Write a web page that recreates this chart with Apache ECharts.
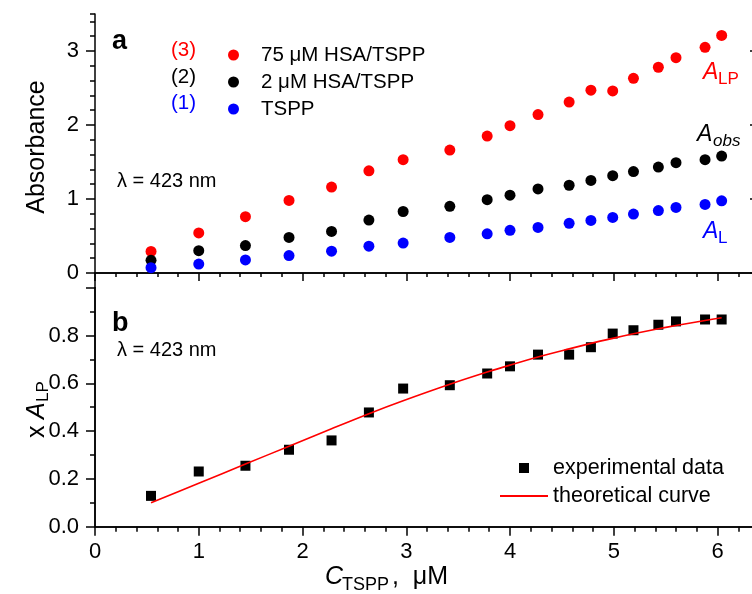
<!DOCTYPE html>
<html>
<head>
<meta charset="utf-8">
<script src="https://cdn.jsdelivr.net/npm/echarts@6/dist/echarts.min.js"></script>
<style>html,body{margin:0;padding:0;background:#fff}#c{width:752px;height:594px}</style>
</head>
<body>
<div id="c"></div>
<script>
// ---- data ----
const xVals   = [0.54,1.00,1.45,1.87,2.28,2.64,2.97,3.42,3.78,4.00,4.27,4.57,4.78,4.99,5.19,5.43,5.60,5.88,6.04];
const aLP     = [0.29,0.54,0.76,0.98,1.16,1.38,1.53,1.66,1.85,1.99,2.14,2.31,2.47,2.46,2.63,2.78,2.91,3.05,3.21];
const aObs    = [0.17,0.30,0.37,0.48,0.56,0.715,0.83,0.90,0.99,1.05,1.135,1.185,1.25,1.314,1.37,1.43,1.49,1.53,1.58];
const aL      = [0.07,0.12,0.176,0.235,0.294,0.362,0.403,0.48,0.529,0.575,0.615,0.67,0.71,0.75,0.795,0.842,0.885,0.925,0.975];
const xALPexp = [0.129,0.231,0.255,0.322,0.361,0.478,0.578,0.592,0.641,0.671,0.72,0.72,0.751,0.808,0.822,0.845,0.859,0.867,0.867];
const xALPthe = [0.100,0.182,0.262,0.337,0.410,0.473,0.527,0.596,0.647,0.676,0.710,0.744,0.767,0.788,0.807,0.828,0.842,0.863,0.874];
const xTicks  = [0,1,2,3,4,5,6];
const yTicksA = [0,1,2,3];
const yTicksB = [0.0,0.2,0.4,0.6,0.8];
const seriesNames = ['75 μM HSA/TSPP','2 μM HSA/TSPP','TSPP'];
const seriesTags  = ['(3)','(2)','(1)'];

const pair = (xs, ys) => xs.map((x, i) => [x, ys[i]]);
const FONT = '"Liberation Sans", Arial, sans-serif';
const RED = '#ff0000', BLUE = '#0000ff', BLACK = '#000000';

const chart = echarts.init(document.getElementById('c'), null, {renderer:'canvas'});
const lineStyle = {color:'#000', width:1.5};
const gridL = 95, gridR = -7;
const TICKFS = 22;

const option = {
  animation:false,
  backgroundColor:'#fff',
  grid:[
    {left:gridL, right:gridR, top:14, height:273.7, outerBoundsMode:'none', containLabel:false},
    {left:gridL, right:gridR, top:287.7, height:239, outerBoundsMode:'none', containLabel:false}
  ],
  xAxis:[
    {gridIndex:0, type:'value', min:0, max:6.4, position:'bottom',
     axisLine:{lineStyle}, axisTick:{show:false}, axisLabel:{show:false}, splitLine:{show:false}},
    {gridIndex:0, type:'value', min:0, max:6.4, interval:1, position:'top',
     axisLine:{lineStyle}, axisTick:{inside:true, length:8, lineStyle},
     minorTick:{show:true, splitNumber:5, length:4, lineStyle}, axisLabel:{show:false}, splitLine:{show:false}},
    {gridIndex:1, type:'value', min:0, max:6.4, interval:1, position:'bottom',
     axisLine:{lineStyle}, axisTick:{inside:false, length:9, lineStyle},
     minorTick:{show:true, splitNumber:5, length:5, lineStyle},
     axisLabel:{color:'#000', fontFamily:FONT, fontSize:TICKFS, margin:14, customValues:xTicks,
       formatter:v=>String(Math.round(v))},
     splitLine:{show:false}},
    {gridIndex:1, type:'value', min:0, max:6.4, interval:1, position:'top',
     axisLine:{lineStyle}, axisTick:{inside:true, length:8, lineStyle},
     minorTick:{show:true, splitNumber:5, length:4, lineStyle}, axisLabel:{show:false}, splitLine:{show:false}}
  ],
  yAxis:[
    {gridIndex:0, type:'value', min:-0.2, max:3.5, interval:0.2, position:'left',
     axisLine:{lineStyle}, axisTick:{inside:false, length:5, lineStyle}, axisLabel:{show:false}, splitLine:{show:false}},
    {gridIndex:0, type:'value', min:-0.2, max:3.5, position:'left',
     axisLine:{show:false}, axisTick:{inside:false, length:9, lineStyle, customValues:yTicksA},
     axisLabel:{color:'#000', fontFamily:FONT, fontSize:TICKFS, margin:16, customValues:yTicksA,
       formatter:v=>String(Math.round(v))}, splitLine:{show:false}},
    {gridIndex:0, type:'value', min:-0.2, max:3.5, position:'right',
     axisLine:{lineStyle}, axisTick:{inside:true, length:9, lineStyle, customValues:yTicksA},
     axisLabel:{show:false}, splitLine:{show:false}},
    {gridIndex:1, type:'value', min:0, max:1.0, interval:0.2, position:'left',
     axisLine:{lineStyle}, axisTick:{inside:false, length:9, lineStyle},
     minorTick:{show:true, splitNumber:2, length:5, lineStyle},
     axisLabel:{color:'#000', fontFamily:FONT, fontSize:TICKFS, margin:16, customValues:yTicksB,
       formatter:v=>v.toFixed(1)}, splitLine:{show:false}},
    {gridIndex:1, type:'value', min:0, max:1.0, interval:0.2, position:'right',
     axisLine:{lineStyle}, axisTick:{inside:true, length:9, lineStyle},
     axisLabel:{show:false}, splitLine:{show:false}}
  ],
  legend:[
    {data:seriesNames, orient:'vertical', left:223, top:39.5, icon:'circle', itemWidth:11, itemHeight:11,
     itemGap:6, selectedMode:false,
     textStyle:{color:'#000', fontFamily:FONT, fontSize:20.5, lineHeight:21, padding:[0,0,0,17]}},
    {data:[{name:'experimental data', icon:'rect'}], orient:'vertical', left:514, top:452,
     itemWidth:10, itemHeight:10, selectedMode:false,
     textStyle:{color:'#000', fontFamily:FONT, fontSize:21.5, lineHeight:22, padding:[0,0,0,19]}},
    {data:[{name:'theoretical curve', icon:'rect'}], orient:'vertical', left:495, top:480,
     itemWidth:48, itemHeight:2, selectedMode:false,
     textStyle:{color:'#000', fontFamily:FONT, fontSize:21.5, lineHeight:22}}
  ],
  series:[
    {name:seriesNames[0], type:'scatter', xAxisIndex:0, yAxisIndex:0, symbol:'circle', symbolSize:11,
     itemStyle:{color:RED, opacity:1}, data:pair(xVals, aLP), z:3},
    {name:seriesNames[1], type:'scatter', xAxisIndex:0, yAxisIndex:0, symbol:'circle', symbolSize:11,
     itemStyle:{color:BLACK, opacity:1}, data:pair(xVals, aObs), z:4},
    {name:seriesNames[2], type:'scatter', xAxisIndex:0, yAxisIndex:0, symbol:'circle', symbolSize:11,
     itemStyle:{color:BLUE, opacity:1}, data:pair(xVals, aL), z:5},
    {name:'experimental data', type:'scatter', xAxisIndex:2, yAxisIndex:3, symbol:'rect', symbolSize:10,
     itemStyle:{color:BLACK, opacity:1}, data:pair(xVals, xALPexp), z:4},
    {name:'theoretical curve', type:'line', xAxisIndex:2, yAxisIndex:3, symbol:'none', smooth:0.3,
     lineStyle:{color:RED, width:1.6}, itemStyle:{color:RED}, data:pair(xVals, xALPthe), z:5}
  ],
  graphic:[
    {type:'text', left:112, top:28, style:{text:'a', font:'bold 27px '+FONT, fill:'#000'}},
    {type:'text', left:112, top:310, style:{text:'b', font:'bold 27px '+FONT, fill:'#000'}},
    {type:'text', left:171, top:40, style:{text:seriesTags[0], font:'20.5px '+FONT, fill:RED}},
    {type:'text', left:171, top:67, style:{text:seriesTags[1], font:'20.5px '+FONT, fill:BLACK}},
    {type:'text', left:171, top:93, style:{text:seriesTags[2], font:'20.5px '+FONT, fill:BLUE}},
    {type:'text', left:117, top:171, style:{text:'λ = 423 nm', font:'20px '+FONT, fill:'#000'}},
    {type:'text', left:117, top:340, style:{text:'λ = 423 nm', font:'20px '+FONT, fill:'#000'}},
    // curve labels
    {type:'text', left:703, top:61, style:{text:'A', font:'italic 23px '+FONT, fill:RED}},
    {type:'text', left:718, top:71, style:{text:'LP', font:'17px '+FONT, fill:RED}},
    {type:'text', left:697, top:123, style:{text:'A', font:'italic 23px '+FONT, fill:BLACK}},
    {type:'text', left:713, top:133, style:{text:'obs', font:'italic 17px '+FONT, fill:BLACK}},
    {type:'text', left:703, top:220, style:{text:'A', font:'italic 23px '+FONT, fill:BLUE}},
    {type:'text', left:718, top:230, style:{text:'L', font:'17px '+FONT, fill:BLUE}},
    // y axis titles (rotated)
    {type:'group', x:37, y:147, rotation:Math.PI/2, children:[
      {type:'text', x:0, y:0, style:{text:'Absorbance', font:'25px '+FONT, fill:'#000', align:'center', verticalAlign:'middle'}}
    ]},
    {type:'group', x:37, y:405, rotation:Math.PI/2, children:[
      {type:'text', x:-33, y:0, style:{text:'x', font:'25px '+FONT, fill:'#000', align:'left', verticalAlign:'middle'}},
      {type:'text', x:-14, y:0, style:{text:'A', font:'italic 25px '+FONT, fill:'#000', align:'left', verticalAlign:'middle'}},
      {type:'text', x:3, y:6, style:{text:'LP', font:'17px '+FONT, fill:'#000', align:'left', verticalAlign:'middle'}}
    ]},
    // x axis title
    {type:'text', left:325, top:565, style:{text:'C', font:'italic 25px '+FONT, fill:'#000'}},
    {type:'text', left:342, top:576, style:{text:'TSPP', font:'18px '+FONT, fill:'#000'}},
    {type:'text', left:392, top:565, style:{text:',  μM', font:'25px '+FONT, fill:'#000'}}
  ]
};
chart.setOption(option);
</script>
</body>
</html>
